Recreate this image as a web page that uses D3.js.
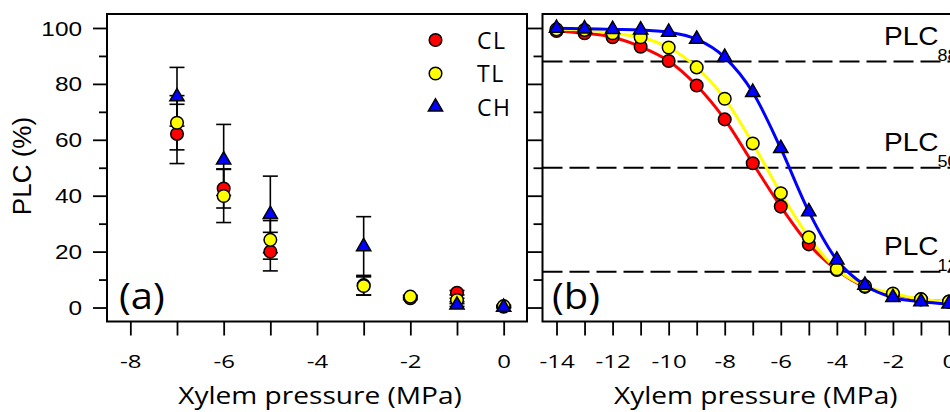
<!DOCTYPE html>
<html>
<head>
<meta charset="utf-8">
<style>
  body { margin: 0; background: #fff; }
  svg { display: block; }
  .axis path { display: none; }
  .axis line { stroke: #000; stroke-width: 1.8; }
</style>
</head>
<body>
<svg width="950" height="412"></svg>
<script src="https://cdn.jsdelivr.net/npm/d3@7"></script>
<script>
// ---- panel (a): measured PLC, mean and error ----
const pressA = [-7, -6, -5, -3, -2, -1, 0];
const clA    = [62.1, 42.6, 20.0, 8.0, 3.3, 5.3, 0.3];
const clErrA = [10.6, 7.0, 6.9, 3.5, 0.5, 0.8, 0.4];
const tlA    = [66.1, 39.9, 24.2, 7.7, 3.9, 2.7, 0.5];
const tlErrA = [9.7, 9.5, 6.9, 3.3, 0.5, 0.6, 0.3];
const chA    = [75.4, 52.8, 33.3, 21.8, null, 0.9, 0.1];
const chErrA = [10.5, 12.7, 13.7, 10.7, null, 0.5, 0.2];

// ---- panel (b): vulnerability curves ----
const pressB = [-14, -13, -12, -11, -10, -9, -8, -7, -6, -5, -4, -3, -2, -1, 0];
const clB = [98.9, 98.1, 96.7, 93.3, 88.2, 79.4, 67.3, 51.6, 36.1, 22.6, 13.4, 7.4, 4.7, 2.9, 2.1];
const tlB = [99.5, 99.3, 98.1, 96.7, 93.0, 85.9, 74.7, 58.7, 40.9, 25.1, 13.7, 7.7, 5.0, 3.0, 2.1];
const chB = [99.9, 99.7, 99.5, 99.3, 98.5, 96.0, 89.5, 77.0, 56.9, 34.3, 17.0, 8.0, 3.6, 2.1, 1.3];
const plcLevels = [88, 50, 12.8];
const plcNames  = ["88", "50", "12"];

const seriesNames = ["CL", "TL", "CH"];
const seriesColors = ["#ff0000", "#ffff00", "#0000ff"];

const xTicksA = d3.range(-8, 1);
const xTicksB = d3.range(-14, 1);
const yMajor = [0, 20, 40, 60, 80, 100];
const yMinor = [10, 30, 50, 70, 90];

const svg = d3.select("svg");
const frameTop = 14, frameBottom = 321.5;

const y = d3.scaleLinear().domain([-5, 105]).range([frameBottom, frameTop]);
const xA = d3.scaleLinear().domain([-8.5, 0.5]).range([107, 527]);
const xB = d3.scaleLinear().domain([-14.5, 0.5]).range([542.5, 963]);

const sansA = "'Liberation Sans', Arial, sans-serif";
const sansC = "'Open Sans', 'Noto Sans', sans-serif";

const tri = d3.symbol().type(d3.symbolTriangle).size(88);

// place a text with a horizontal stretch (the figure's type is wide)
function stretchText(g, x, yy, sx, txt) {
  return g.append("text")
    .attr("transform", `translate(${x},${yy}) scale(${sx},1)`)
    .text(txt);
}

function drawAxes(x, ticks, showYLabels) {
  const g = svg.append("g");
  // x axis, all ticks same length, labels on even values
  const ax = g.append("g").attr("class", "axis")
    .attr("transform", `translate(0,${frameBottom})`)
    .call(d3.axisBottom(x).tickValues(ticks).tickSize(14).tickSizeOuter(0)
      .tickFormat(d => d % 2 === 0 ? String(d) : ""));
  ax.selectAll("text")
    .attr("y", 0).attr("dy", 0)
    .attr("transform", "translate(0,46.5) scale(1.3,1)")
    .attr("font-family", sansC).attr("font-size", 18.5).attr("fill", "#000");

  const x0 = x.range()[0];
  const ay = g.append("g").attr("class", "axis")
    .attr("transform", `translate(${x0},0)`)
    .call(d3.axisLeft(y).tickValues(yMajor).tickSize(showYLabels ? 14 : 15).tickSizeOuter(0)
      .tickFormat(d => showYLabels ? String(d) : ""));
  ay.selectAll("text")
    .attr("x", 0).attr("dy", "0.36em")
    .attr("transform", "translate(-25,0) scale(1.25,1)")
    .attr("font-family", sansA).attr("font-size", 19.5).attr("fill", "#000");
  g.append("g").attr("class", "axis")
    .attr("transform", `translate(${x0},0)`)
    .call(d3.axisLeft(y).tickValues(yMinor).tickSize(showYLabels ? 8 : 9).tickSizeOuter(0).tickFormat(""));

  // frame
  g.append("rect")
    .attr("x", x0).attr("y", frameTop)
    .attr("width", x.range()[1] - x0).attr("height", frameBottom - frameTop)
    .attr("fill", "none").attr("stroke", "#000").attr("stroke-width", 2);

  // axis title
  stretchText(g, (x0 + x.range()[1]) / 2 + 3, 404, 1.17, "Xylem pressure (MPa)")
    .attr("font-family", sansC).attr("font-size", 24).attr("text-anchor", "middle");
  return g;
}

// ================= panel (a) =================
const gA = drawAxes(xA, xTicksA, true);

const groupsA = [
  { v: clA, e: clErrA },
  { v: tlA, e: tlErrA },
  { v: chA, e: chErrA }
];
const ptsA = groupsA.map((s, i) => pressA.map((p, j) => ({ p, v: s.v[j], e: s.e[j], i }))
  .filter(d => d.v !== null));

// error bars first
const eb = gA.append("g").attr("stroke", "#000").attr("stroke-width", 1.6);
ptsA.flat().forEach(d => {
  eb.append("line").attr("x1", xA(d.p)).attr("x2", xA(d.p))
    .attr("y1", y(d.v - d.e)).attr("y2", y(d.v + d.e));
  [d.v - d.e, d.v + d.e].forEach(c => {
    eb.append("line").attr("x1", xA(d.p) - 7.5).attr("x2", xA(d.p) + 7.5)
      .attr("y1", y(c)).attr("y2", y(c));
  });
});

function drawMarkers(g, pts, i, x) {
  if (i < 2) {
    g.append("g").selectAll("circle").data(pts).join("circle")
      .attr("cx", d => x(d.p)).attr("cy", d => y(d.v)).attr("r", 6.3)
      .attr("fill", seriesColors[i]).attr("stroke", "#000").attr("stroke-width", 1.5);
  } else {
    g.append("g").selectAll("path").data(pts).join("path")
      .attr("d", tri)
      .attr("transform", d => `translate(${x(d.p)},${y(d.v)})`)
      .attr("fill", seriesColors[i]).attr("stroke", "#000").attr("stroke-width", 1.5);
  }
}
ptsA.forEach((pts, i) => drawMarkers(gA, pts, i, xA));

// legend
const lg = gA.append("g");
seriesNames.forEach((name, i) => {
  const ly = 40 + i * 33.5;
  drawMarkers(lg, [{ p: 0, v: y.invert(ly) }], i, () => 435.5);
  lg.append("text").attr("x", 477).attr("y", ly + 8.5)
    .attr("font-family", sansC).attr("font-size", 23).attr("letter-spacing", 1.5)
    .text(name);
});

stretchText(gA, 119, 309, 1.08, "(a)")
  .attr("font-family", sansC).attr("font-size", 37);

// y axis title
svg.append("text")
  .attr("transform", "translate(31,166) rotate(-90)")
  .attr("text-anchor", "middle")
  .attr("font-family", sansA).attr("font-size", 26)
  .text("PLC (%)");

// ================= panel (b) =================
const gB = drawAxes(xB, xTicksB, false);

// PLC reference lines
plcLevels.forEach((lv, k) => {
  gB.append("line")
    .attr("x1", xB.range()[0]).attr("x2", xB.range()[1])
    .attr("y1", y(lv)).attr("y2", y(lv))
    .attr("stroke", "#000").attr("stroke-width", 1.8).attr("stroke-dasharray", "20,7");
  const t = stretchText(gB, 884, y(lv) - 17, 1.06, "")
    .attr("font-family", sansA).attr("font-size", 26.5);
  t.append("tspan").text("PLC");
  t.append("tspan").attr("dx", -1).attr("dy", 16).attr("font-size", 17).text(plcNames[k]);
});

const valsB = [clB, tlB, chB];
const line = d3.line().x(d => xB(d.p)).y(d => y(d.v)).curve(d3.curveMonotoneX);
const ptsB = valsB.map(vs => pressB.map((p, j) => ({ p, v: vs[j] })));
ptsB.forEach((pts, i) => {
  gB.append("path").datum(pts).attr("d", line)
    .attr("fill", "none").attr("stroke", seriesColors[i]).attr("stroke-width", 3);
});
ptsB.forEach((pts, i) => drawMarkers(gB, pts, i, xB));

stretchText(gB, 552, 309, 1.08, "(b)")
  .attr("font-family", sansC).attr("font-size", 37);
</script>
</body>
</html>
